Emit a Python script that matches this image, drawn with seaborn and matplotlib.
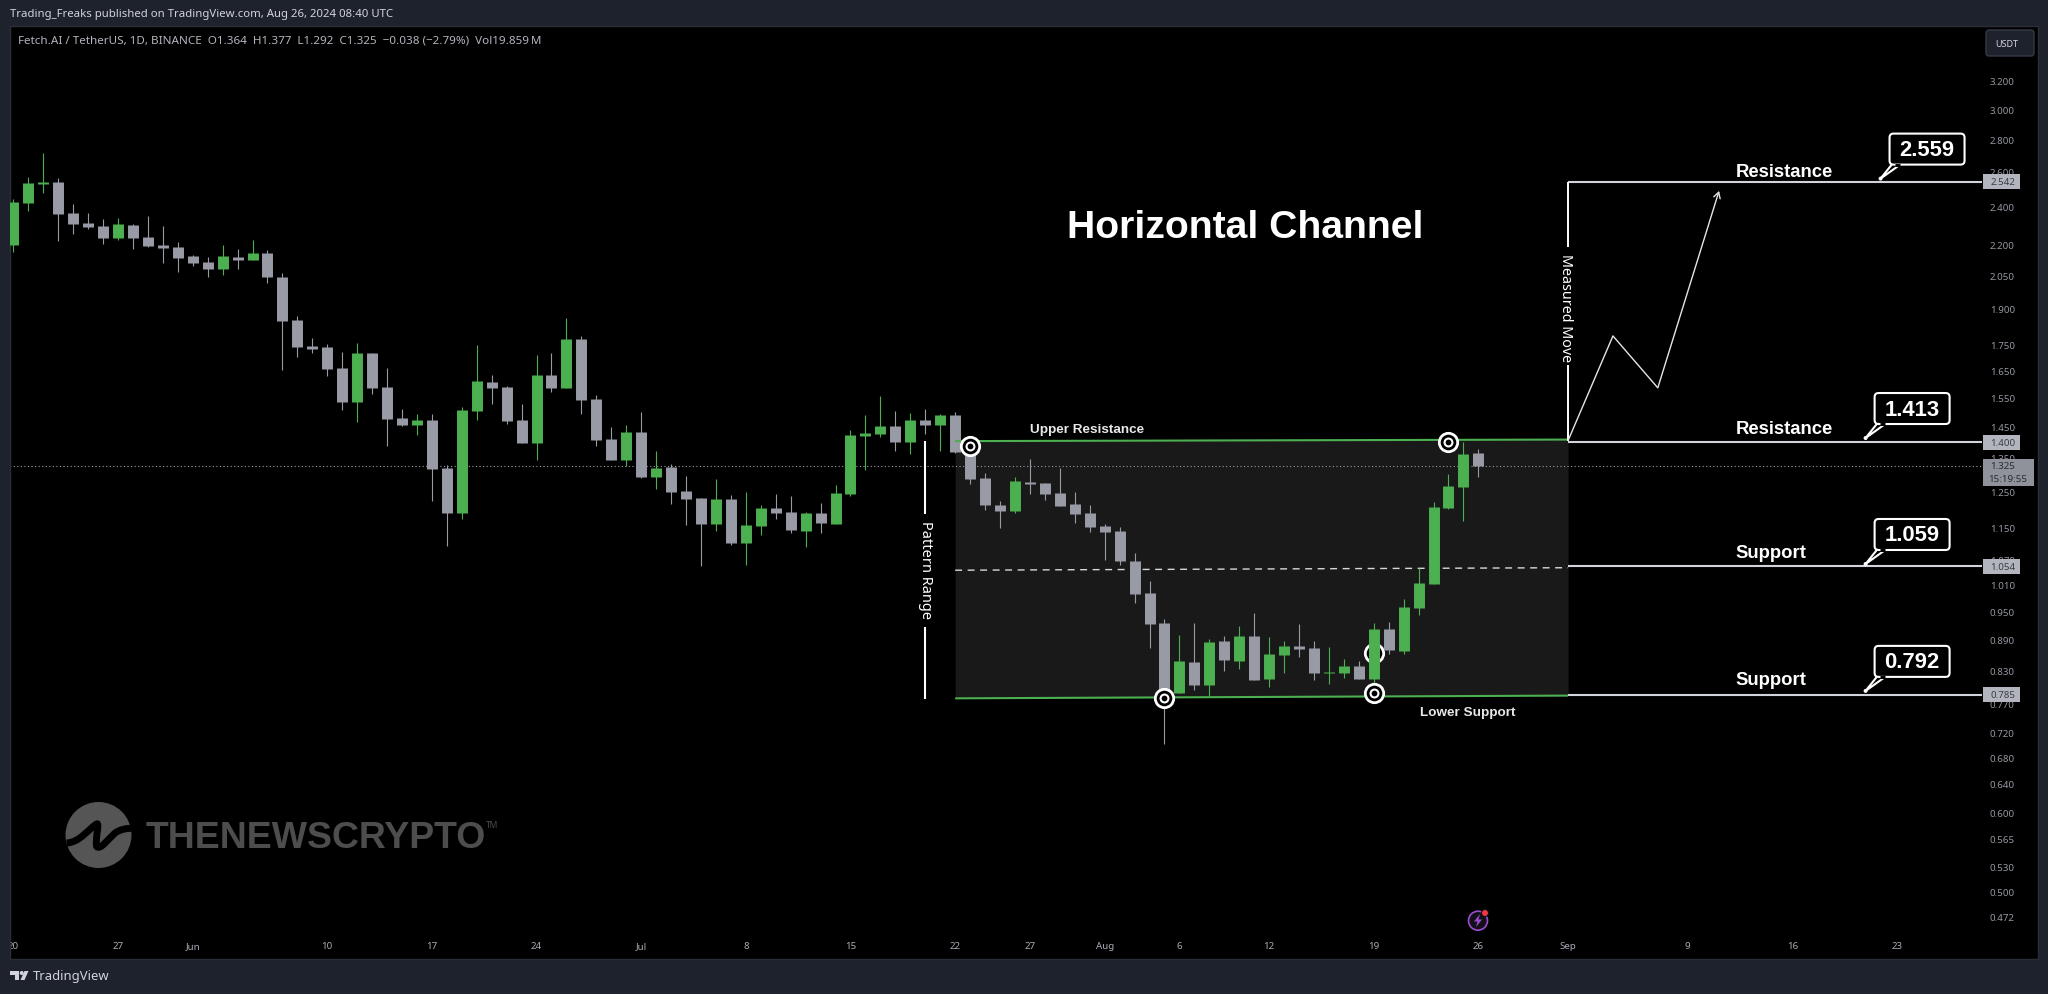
import numpy as np
import pandas as pd
import seaborn as sns
import matplotlib.pyplot as plt
from matplotlib.patches import Rectangle, FancyBboxPatch, Circle, Polygon, PathPatch
from matplotlib.path import Path
from matplotlib.lines import Line2D
from matplotlib.transforms import IdentityTransform

W, H = 2048, 995

open_ = [2.198,2.42,2.528,2.539,2.365,2.312,2.296,2.234,2.301,2.239,2.198,2.188,2.144,2.114,2.081,2.139,2.124,2.158,2.043,1.851,1.744,1.741,1.659,1.535,1.717,1.588,1.479,1.456,1.473,1.319,1.19,1.503,1.606,1.588,1.473,1.397,1.632,1.585,1.773,1.545,1.41,1.344,1.433,1.292,1.322,1.252,1.232,1.161,1.229,1.111,1.155,1.204,1.193,1.142,1.19,1.161,1.243,1.42,1.426,1.453,1.4,1.473,1.456,1.49,1.372,1.29,1.212,1.196,1.278,1.275,1.246,1.215,1.19,1.155,1.142,1.066,0.991,0.925,0.788,0.846,0.803,0.888,0.848,0.898,0.814,0.86,0.878,0.874,0.825,0.825,0.839,0.814,0.913,0.868,0.958,1.012,1.204,1.263,1.364]
high = [2.442,2.569,2.714,2.563,2.415,2.365,2.333,2.338,2.307,2.349,2.296,2.213,2.149,2.139,2.198,2.178,2.224,2.173,2.062,1.869,1.777,1.753,1.721,1.757,1.717,1.659,1.51,1.493,1.493,1.328,1.517,1.748,1.632,1.592,1.528,1.709,1.717,1.86,1.785,1.559,1.449,1.456,1.5,1.372,1.332,1.295,1.232,1.287,1.24,1.249,1.212,1.243,1.237,1.193,1.218,1.269,1.439,1.49,1.556,1.503,1.496,1.51,1.493,1.5,1.399,1.304,1.223,1.292,1.347,1.275,1.319,1.249,1.212,1.161,1.153,1.086,1.019,0.934,0.9,0.925,0.892,0.898,0.919,0.947,0.896,0.888,0.923,0.888,0.876,0.852,0.848,0.925,0.927,0.978,1.049,1.221,1.301,1.4,1.377]
low = [2.163,2.376,2.476,2.219,2.254,2.28,2.203,2.224,2.178,2.188,2.11,2.067,2.095,2.043,2.052,2.081,2.124,2.015,1.651,1.701,1.717,1.629,1.507,1.466,1.563,1.388,1.453,1.423,1.223,1.104,1.174,1.473,1.528,1.459,1.397,1.344,1.57,1.585,1.493,1.388,1.344,1.325,1.29,1.257,1.215,1.158,1.054,1.142,1.106,1.057,1.132,1.174,1.137,1.101,1.137,1.161,1.237,1.313,1.416,1.372,1.362,1.426,1.372,1.365,1.272,1.198,1.15,1.19,1.243,1.226,1.209,1.163,1.14,1.069,1.057,0.969,0.874,0.701,0.788,0.794,0.783,0.829,0.833,0.812,0.799,0.825,0.856,0.812,0.805,0.816,0.814,0.805,0.862,0.862,0.942,1.012,1.201,1.169,1.292]
close = [2.426,2.534,2.539,2.36,2.307,2.291,2.234,2.307,2.234,2.193,2.183,2.134,2.11,2.081,2.144,2.124,2.158,2.043,1.847,1.741,1.733,1.655,1.535,1.717,1.585,1.476,1.456,1.473,1.316,1.19,1.507,1.61,1.585,1.469,1.397,1.632,1.585,1.773,1.542,1.407,1.344,1.433,1.292,1.319,1.249,1.229,1.161,1.229,1.111,1.158,1.204,1.19,1.145,1.19,1.163,1.246,1.423,1.429,1.453,1.4,1.473,1.456,1.49,1.369,1.287,1.212,1.196,1.281,1.272,1.243,1.209,1.188,1.153,1.14,1.066,0.989,0.923,0.786,0.848,0.803,0.886,0.85,0.898,0.812,0.862,0.878,0.872,0.825,0.827,0.839,0.814,0.913,0.87,0.96,1.014,1.207,1.266,1.362,1.325]

price_ticks = [3.2,3.0,2.8,2.6,2.4,2.2,2.05,1.9,1.75,1.65,1.55,1.45,1.35,1.25,1.15,1.07,1.01,0.95,0.89,0.83,0.77,0.72,0.68,0.64,0.6,0.565,0.53,0.5,0.472]
date_days = [0,7,12,21,28,35,42,49,56,63,68,73,78,84,91,98,104,112,119,126]
date_labels = ['20','27','Jun','10','17','24','Jul','8','15','22','27','Aug','6','12','19','26','Sep','9','16','23']

levels = [2.542, 1.400, 1.054, 0.785]
level_names = ['Resistance', 'Resistance', 'Support', 'Support']
callouts = [2.559, 1.413, 1.059, 0.792]
callout_days = [124.9, 123.9, 123.9, 123.9]

channel_days = [63, 104]
channel_upper = [1.403, 1.408]
channel_lower = [0.7786, 0.7835]
channel_mid = [1.044, 1.050]
path_days = [104, 107, 110]
path_prices = [1.405, 1.785, 1.585]
arrow_end = (114.1, 2.488)
target_days = [64, 77, 91, 96]
target_prices = [1.387, 0.780, 0.788, 1.401]

sns.set_theme(style='dark', rc={'axes.facecolor': 'black', 'figure.facecolor': '#1e222d',
                                'axes.edgecolor': '#2a2e39', 'axes.grid': False,
                                'lines.solid_capstyle': 'butt'})
plt.rcParams['font.family'] = ['Noto Sans', 'DejaVu Sans']
BOLD = 'Liberation Sans'

fig = plt.figure(figsize=(W / 100, H / 100), dpi=100)
ax = fig.add_axes([10 / W, 1 - 960 / H, 2027.5 / W, 933 / H])
ax.set_yscale('log')

df = pd.DataFrame({'day': np.arange(len(close)), 'open': open_, 'high': high, 'low': low, 'close': close})
df['dir'] = np.where(df.close >= df.open, 'up', 'down')
wick = df.melt(id_vars=['day', 'dir'], value_vars=['high', 'low'], value_name='price')
body = df.melt(id_vars=['day', 'dir'], value_vars=['open', 'close'], value_name='price')
cols = {'up': '#4caf50', 'down': '#989ba5'}

# channel goes under the candles
ax.fill_between(channel_days, channel_lower, channel_upper, color='#191919', lw=0, zorder=1)
ax.plot(channel_days, channel_mid, color='#d8d8d8', lw=1, dashes=(5, 4), zorder=2)
ax.plot([-1, 131.7], [1.325, 1.325], color='#9a9da6', lw=0.8, dashes=(1, 2.2), zorder=2)
sns.scatterplot(x=[91], y=[0.864], s=175, color='black', edgecolor='white', linewidth=2, zorder=3, ax=ax)

sns.lineplot(data=wick, x='day', y='price', hue='dir', units='day', estimator=None, palette=cols,
             lw=0.8, legend=False, zorder=4, ax=ax, solid_capstyle='butt')
sns.lineplot(data=body, x='day', y='price', hue='dir', units='day', estimator=None, palette=cols,
             lw=7.9, legend=False, zorder=5, ax=ax, solid_capstyle='butt')

ax.plot(channel_days, channel_upper, color='#4caf50', lw=1.5, zorder=6)
ax.plot(channel_days, channel_lower, color='#4caf50', lw=1.5, zorder=6)

# targets
sns.scatterplot(x=target_days, y=target_prices, s=175, color='black', edgecolor='white', linewidth=2, zorder=7, ax=ax)
sns.scatterplot(x=target_days, y=target_prices, s=32, color='black', edgecolor='white', linewidth=1.5, zorder=7, ax=ax)

# level lines and measured move
for lv in levels:
    ax.plot([104, 131.7], [lv, lv], color='#d1d4dc', lw=1.5, zorder=6)
ax.plot([104, 104], [2.542, 2.188], color='white', lw=1.4, zorder=6)
ax.plot([104, 104], [1.670, 1.403], color='white', lw=1.4, zorder=6)
ax.plot([61, 61], [1.403, 1.188], color='white', lw=1.5, zorder=6)
ax.plot([61, 61], [0.917, 0.778], color='white', lw=1.5, zorder=6)

sns.lineplot(x=path_days, y=path_prices, sort=False, estimator=None, color='#e6e6e6', lw=1, zorder=6, ax=ax)
ax.annotate('', xy=arrow_end, xytext=(path_days[-1], path_prices[-1]),
            arrowprops=dict(arrowstyle='->,head_length=0.35,head_width=0.2', color='#e6e6e6', lw=1,
                            shrinkA=0, shrinkB=0), zorder=6)

ax.set_xlim((10 - 13.3) / 14.95, (2037.5 - 13.3) / 14.95)
ax.set_ylim(0.4287, 3.629)
ax.set_xlabel('')
ax.set_ylabel('')

ax.yaxis.tick_right()
ax.minorticks_off()
ax.set_yticks(price_ticks)
ax.set_yticklabels([f'{p:.3f}' for p in price_ticks])
ax.set_xticks(date_days)
ax.set_xticklabels(date_labels)
ax.tick_params(axis='y', which='both', length=0, pad=-34.2, labelsize=7, labelcolor='#9598a1')
ax.tick_params(axis='x', which='both', length=0, pad=-13, labelsize=7, labelcolor='#a8abb4')
for lab in ax.get_xticklabels():
    lab.set_clip_on(True)
    lab.set_clip_path(ax.patch)
for s in ax.spines.values():
    s.set_color('#2a2e39')
    s.set_linewidth(1)


def px(x, y):
    return x / W, 1 - y / H


def label(x, y, s, **kw):
    kw.setdefault('ha', 'center')
    kw.setdefault('va', 'center')
    kw.setdefault('color', 'white')
    kw.setdefault('zorder', 8)
    fig.text(*px(x, y), s, **kw)


def box(x0, y0, x1, y1, **kw):
    fig.add_artist(Rectangle(px(x0, y1), (x1 - x0) / W, (y1 - y0) / H, transform=fig.transFigure, lw=0, **kw))


# callouts hang off their price, box sits up and to the right of the tip
for val, d in zip(callouts, callout_days):
    tx, ty = ax.transData.transform((d, val))
    fig.add_artist(Polygon([(tx, ty), (tx + 12, ty + 15), (tx + 21, ty + 15)], closed=True,
                           transform=IdentityTransform(), fc='black', ec='white', lw=1.5, zorder=8))
    fig.add_artist(FancyBboxPatch((tx + 9, ty + 14), 75, 31, boxstyle='round,pad=0,rounding_size=4',
                                  transform=IdentityTransform(), fc='black', ec='white', lw=1.5, zorder=8))
    fig.add_artist(Line2D([tx + 14, tx + 19], [ty + 14, ty + 14], transform=IdentityTransform(),
                          color='black', lw=2.2, zorder=8))
    fig.add_artist(Circle((tx, ty), 2, transform=IdentityTransform(), fc='white', lw=0, zorder=8))
    fig.text(tx + 46.5, ty + 29, f'{val:.3f}', transform=IdentityTransform(), ha='center', va='center',
             color='white', fontsize=15.8, fontweight='bold', family=BOLD, zorder=9)

# header and legend
label(10, 14.5, 'Trading_Freaks published on TradingView.com, Aug 26, 2024 08:40 UTC',
      ha='left', color='#d1d4dc', fontsize=8.2)
label(18, 41, 'Fetch.AI / TetherUS, 1D, BINANCE  O1.364  H1.377  L1.292  C1.325  \u22120.038 (\u22122.79%)  Vol19.859\u2009M',
      ha='left', color='#b2b5be', fontsize=8.4)

label(1245, 228, 'Horizontal Channel', fontsize=28.2, fontweight='bold', family=BOLD)
label(1087, 430, 'Upper Resistance', fontsize=9.7, fontweight='bold', family=BOLD, color='#e8e8e8')
label(1468, 713, 'Lower Support', fontsize=9.7, fontweight='bold', family=BOLD, color='#e8e8e8')
for nm, yy, xx in zip(level_names, [173, 430, 553, 681], [1784, 1784, 1771, 1771]):
    label(xx, yy, nm, fontsize=13.3, fontweight='bold', family=BOLD)
label(1566, 308, 'Measured Move', rotation=270, fontsize=10.3)
label(925, 570, 'Pattern Range', rotation=270, fontsize=10.5)

# price scale boxes
for lv in levels:
    yy = H - ax.transData.transform((0, lv))[1]
    box(1983, yy - 7.5, 2020, yy + 7.5, facecolor='#b2b5be', zorder=7)
    label(2003, yy, f'{lv:.3f}', fontsize=7, color='#3a3d45')
box(1983, 460, 2034, 487, facecolor='#8f929b', zorder=7)
label(2003, 467, '1.325', fontsize=7, color='#2a2c33')
label(2008, 479, '15:19:55', fontsize=7, color='#2a2c33')

# USDT button
fig.add_artist(FancyBboxPatch((1989, H - 54), 42, 20, boxstyle='round,pad=3', transform=IdentityTransform(),
                              fc='#1e222d', ec='#363a45', lw=1, zorder=7))
label(2006.5, 44.5, 'USDT', fontsize=6.5, color='#d1d4dc', fontweight='medium')

# watermark logo
fig.add_artist(Circle((98.5, H - 836), 33, transform=IdentityTransform(), fc='#555555', lw=0, zorder=1))
wave = [(50, 162), (90, 160), (115, 120), (140, 105), (150, 100), (135, 150), (140, 172),
        (150, 185), (175, 150), (195, 132), (210, 122), (225, 118), (245, 118)]
wave_px = [(50 + a / 3, H - (790 + b / 3)) for a, b in wave]
codes = [Path.MOVETO] + [Path.CURVE4] * 12
fig.add_artist(PathPatch(Path(wave_px, codes), transform=IdentityTransform(), fc='none', ec='black', lw=5, zorder=2))
label(146, 838, 'THENEWSCRYPTO', ha='left', fontsize=26.9, fontweight='bold', family=BOLD, color='#4d4d4d', zorder=2)
label(486, 826, 'TM', ha='left', fontsize=6, color='#4d4d4d', zorder=2)

# TradingView mark
tv = '#d1d4dc'
fig.add_artist(Polygon([(10, H - 972), (19, H - 972), (19, H - 981), (15, H - 981), (15, H - 976), (10, H - 976)],
                       transform=IdentityTransform(), fc=tv, lw=0, zorder=8))
fig.add_artist(Circle((21.7, H - 974), 2, transform=IdentityTransform(), fc=tv, lw=0, zorder=8))
fig.add_artist(Polygon([(28.5, H - 972), (24.5, H - 972), (20.5, H - 981), (24.5, H - 981)],
                       transform=IdentityTransform(), fc=tv, lw=0, zorder=8))
label(33, 977, 'TradingView', ha='left', fontsize=9.4, color=tv)

# bolt icon
fig.add_artist(Circle((1478, H - 921.7), 9.5, transform=IdentityTransform(), fc='#14101a', ec='#9c4dcc', lw=1.2, zorder=8))
fig.add_artist(Polygon([(1480, H - 915), (1474, H - 922.5), (1477.5, H - 922.5), (1476, H - 928),
                        (1482, H - 920.5), (1478.5, H - 920.5)],
                       transform=IdentityTransform(), fc='#9c4dcc', lw=0, zorder=8))
fig.add_artist(Circle((1485, H - 914), 3.5, transform=IdentityTransform(), fc='#f23645', ec='#101010', lw=0.8, zorder=9))

fig.savefig('out.png', dpi=100, facecolor=fig.get_facecolor())
